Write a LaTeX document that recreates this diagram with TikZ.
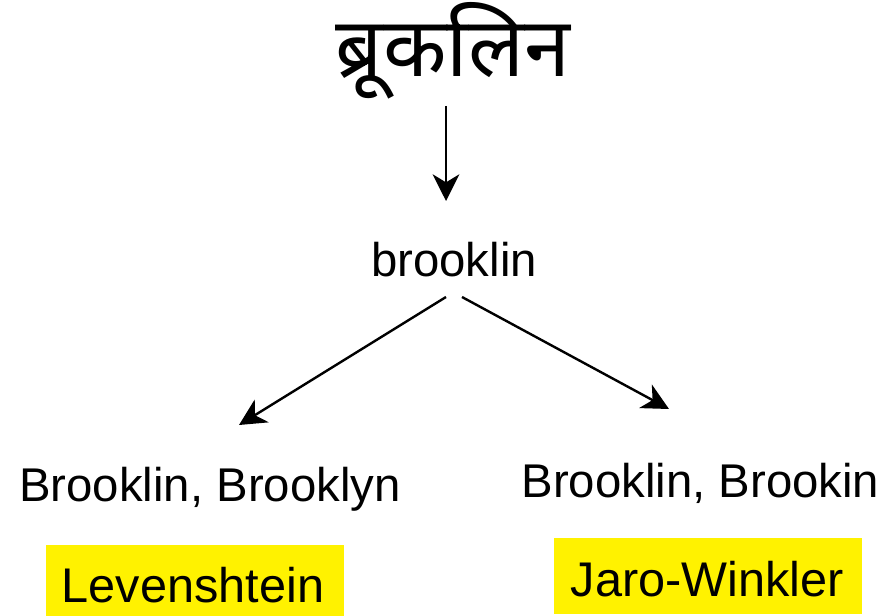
\documentclass[tikz,border=0pt]{standalone}
\usepackage{fontspec}
\setmainfont{Liberation Sans}
\newfontfamily\devfont[Script=Devanagari]{Noto Sans}
\usetikzlibrary{arrows.meta}
\tikzset{
  lbl/.style={inner sep=0pt, anchor=base, font=\fontsize{35.5}{40}\selectfont},
  boxlbl/.style={lbl, font=\fontsize{36.5}{40}\selectfont},
  ybox/.style={fill=yellow, draw=none, inner sep=0pt},
  arr/.style={line width=1.8pt, -{Stealth[length=20pt,width=20pt,inset=6pt]}}
}
\begin{document}
\begin{tikzpicture}[x=0.75pt,y=-0.75pt]
\useasboundingbox (0,0) rectangle (888,616);
\node[inner sep=0pt, anchor=base, font=\devfont\fontsize{62}{70}\selectfont] (hin) at (453,77) {ब्रूकलिन};
\coordinate (h0) at (446,106);
\node[lbl] (bro) at (454,277) {brooklin};
\coordinate (b0) at (446,297);
\coordinate (b1) at (462,297);
\coordinate (l1) at (239,425);
\coordinate (r1) at (669,409);
\coordinate (h1) at (446,201);
\draw[arr] (h0) -- (h1);
\draw[arr] (b0) -- (l1);
\draw[arr] (b1) -- (r1);
\node[lbl] (lev) at (210,501) {Brooklin, Brooklyn};
\node[lbl] (jw) at (700.5,497) {Brooklin, Brookin};
\node[ybox, minimum width=223.5pt, minimum height=53.25pt] (levbox) at (195,580.5) {};
\node[boxlbl] (levtxt) at (193,602) {Levenshtein};
\node[ybox, minimum width=231pt, minimum height=57pt] (jwbox) at (708,576) {};
\node[boxlbl] (jwtxt) at (707.5,596) {Jaro-Winkler};
\end{tikzpicture}
\end{document}
